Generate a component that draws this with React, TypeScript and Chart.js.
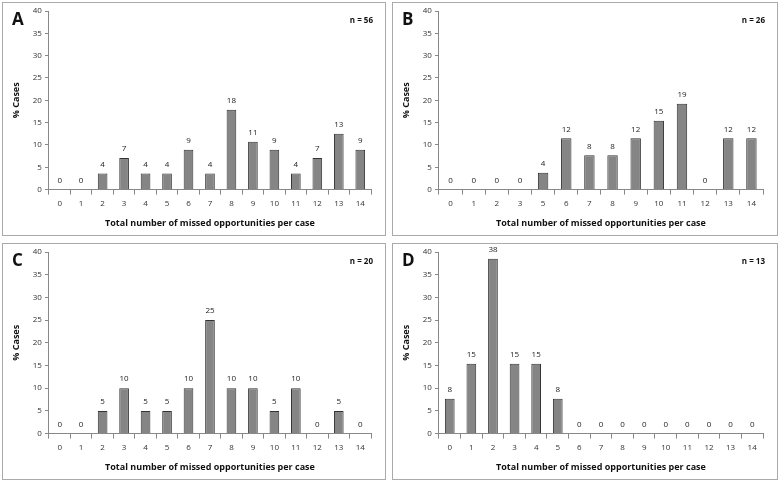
import React, { useEffect, useRef } from "react";
import { Chart, registerables } from "chart.js";
Chart.register(...registerables);

const catsFull = ["0","1","2","3","4","5","6","7","8","9","10","11","12","13","14"];
const catsB = ["0","1","2","3","5","6","7","8","9","10","11","12","13","14"];
const valuesA = [0,0,3.6,7.1,3.6,3.6,8.9,3.6,17.9,10.7,8.9,3.6,7.1,12.5,8.9];
const labelsA = ["0","0","4","7","4","4","9","4","18","11","9","4","7","13","9"];
const valuesB = [0,0,0,0,3.8,11.5,7.7,7.7,11.5,15.4,19.2,0,11.5,11.5];
const labelsB = ["0","0","0","0","4","12","8","8","12","15","19","0","12","12"];
const valuesC = [0,0,5,10,5,5,10,25,10,10,5,10,0,5,0];
const labelsC = ["0","0","5","10","5","5","10","25","10","10","5","10","0","5","0"];
const valuesD = [7.7,15.4,38.5,15.4,15.4,7.7,0,0,0,0,0,0,0,0,0];
const labelsD = ["8","15","38","15","15","8","0","0","0","0","0","0","0","0","0"];

const FONT = "'Open Sans', 'DejaVu Sans', sans-serif";

function Panel(props: { left: number; top: number; w: number; h: number; letter: string; n: string; cats: string[]; values: number[]; labels: string[] }) {
  const ref = useRef<HTMLCanvasElement>(null);
  useEffect(() => {
    const labelPlugin = {
      id: "vals",
      afterDatasetsDraw(chart: any) {
        const ctx = chart.ctx;
        const meta = chart.getDatasetMeta(0);
        ctx.save();
        ctx.font = `8px ${FONT}`;
        ctx.fillStyle = "#222";
        ctx.textAlign = "center";
        ctx.textBaseline = "bottom";
        meta.data.forEach((el: any, i: number) => {
          ctx.fillText(props.labels[i], el.x, el.y - 5);
        });
        ctx.restore();
      },
    };
    const c = new Chart(ref.current!, {
      type: "bar",
      data: {
        labels: props.cats,
        datasets: [{ data: props.values, backgroundColor: "#858585", borderColor: "#333", borderWidth: 1, categoryPercentage: 1, barPercentage: 0.45 }],
      },
      options: {
        animation: false,
        responsive: false,
        layout: { padding: { top: 8, right: 14, left: 4, bottom: 2 } },
        plugins: { legend: { display: false }, tooltip: { enabled: false } },
        scales: {
          x: {
            offset: true,
            grid: { offset: true, drawOnChartArea: false, color: "#888", tickLength: 5 },
            border: { color: "#888" },
            ticks: { font: { size: 8, family: FONT }, color: "#333", padding: 4 },
            title: { display: true, text: "Total number of missed opportunities per case", font: { size: 9, weight: "bold", family: FONT }, color: "#111", padding: { top: 6 } },
          },
          y: {
            min: 0, max: 40,
            ticks: { stepSize: 5, font: { size: 8, family: FONT }, color: "#333", padding: 3 },
            grid: { drawOnChartArea: false, color: "#888", tickLength: 4 },
            border: { color: "#888" },
            title: { display: true, text: "% Cases", font: { size: 9, weight: "bold", family: FONT }, color: "#111", padding: { bottom: 8 } },
          },
        },
      },
      plugins: [labelPlugin],
    } as any);
    return () => c.destroy();
  }, []);
  return (
    <div style={{ position: "absolute", left: props.left, top: props.top, width: props.w, height: props.h, border: "1px solid #aaa", boxSizing: "border-box", background: "#fff" }}>
      <canvas ref={ref} width={props.w - 2} height={props.h - 2} style={{ display: "block" }} />
      <div style={{ position: "absolute", left: 9, top: 4, fontFamily: FONT, fontWeight: "bold", fontSize: 17, color: "#111" }}>{props.letter}</div>
      <div style={{ position: "absolute", right: 12, top: 11, fontFamily: FONT, fontWeight: "bold", fontSize: 8, color: "#111" }}>{props.n}</div>
    </div>
  );
}

export default function App() {
  return (
    <div style={{ position: "absolute", left: 0, top: 0, width: 780, height: 484, background: "#fff" }}>
      <Panel left={2} top={2} w={384} h={234} letter="A" n="n = 56" cats={catsFull} values={valuesA} labels={labelsA} />
      <Panel left={392} top={2} w={386} h={234} letter="B" n="n = 26" cats={catsB} values={valuesB} labels={labelsB} />
      <Panel left={2} top={243} w={384} h={237} letter="C" n="n = 20" cats={catsFull} values={valuesC} labels={labelsC} />
      <Panel left={392} top={243} w={386} h={237} letter="D" n="n = 13" cats={catsFull} values={valuesD} labels={labelsD} />
    </div>
  );
}
